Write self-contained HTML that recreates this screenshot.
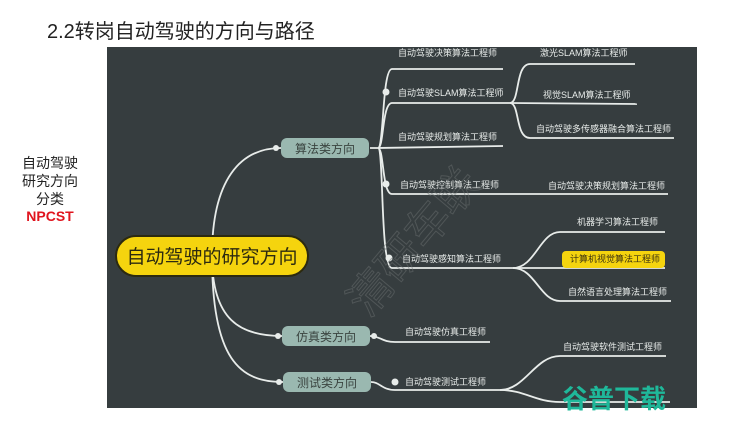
<!DOCTYPE html>
<html><head><meta charset="utf-8"><style>
body{margin:0;width:740px;height:419px;background:#fff;overflow:hidden;font-family:"Liberation Sans","Noto Sans CJK SC",sans-serif;}
</style></head><body>
<svg width="740" height="419" xmlns="http://www.w3.org/2000/svg" font-family="Liberation Sans, Noto Sans CJK SC, sans-serif">
<text x="47" y="38" font-size="20" fill="#222">2.2转岗自动驾驶的方向与路径</text>
<g font-size="14" fill="#222" text-anchor="middle">
<text x="50" y="168">自动驾驶</text>
<text x="50" y="186">研究方向</text>
<text x="50" y="204">分类</text>
<text x="50" y="221" fill="#e0141e" font-weight="bold">NPCST</text>
</g>
<rect x="107" y="47" width="590" height="361" fill="#363d3f"/>
<g stroke="#e8ecea" stroke-width="1.8" fill="none">
<path d="M212 256 C212 180 240 148 281 148"/>
<path d="M212 256 C212 320 240 336 282 336"/>
<path d="M212 256 C212 360 240 382 283 382"/>
<path d="M370 148 L378 148 C384 148 382 69 392 69 L503 69"/>
<path d="M378 148 C384 148 382 103 392 103 L510 103"/>
<path d="M378 148 L503 146"/>
<path d="M378 148 C384 148 382 194 392 194 L668 194"/>
<path d="M378 148 C384 148 380 268 392 268 L513 268"/>
<path d="M510 103 C520 103 515 64 530 64 L635 64"/>
<path d="M510 103 L637 104"/>
<path d="M510 103 C520 103 515 138 530 138 L674 138"/>
<path d="M513 268 C535 268 540 232 560 232 L665 232"/>
<path d="M513 268 L665 268"/>
<path d="M513 268 C535 268 540 301 560 301 L671 301"/>
<path d="M370 336 C380 336 382 342 395 342 L490 342"/>
<path d="M371 382 C380 382 382 390 395 390 L500 390"/>
<path d="M500 390 C525 390 535 356 560 356 L666 356"/>
<path d="M500 390 C525 390 535 402 560 402 L670 402"/>
</g>
<g fill="#e8ecea"><circle cx="386" cy="92" r="3.5"/><circle cx="386" cy="184" r="3.5"/><circle cx="389" cy="258" r="3.5"/><circle cx="395" cy="382" r="3.5"/><circle cx="374" cy="336" r="3"/><circle cx="276" cy="148" r="3"/><circle cx="278" cy="336" r="3"/><circle cx="279" cy="382" r="3"/></g>
<rect x="116" y="236" width="192" height="40" rx="20" fill="#f5d40e" stroke="#2c2a10" stroke-width="2"/>
<text x="212" y="263" font-size="19" text-anchor="middle" fill="#2c2a10">自动驾驶的研究方向</text>
<g fill="#9ab8b0"><rect x="281" y="138" width="88" height="20" rx="6"/><rect x="282" y="326" width="88" height="20" rx="6"/><rect x="283" y="372" width="88" height="20" rx="6"/></g>
<g font-size="12" fill="#3a4440" text-anchor="middle"><text x="325" y="153">算法类方向</text><text x="326" y="341">仿真类方向</text><text x="327" y="387">测试类方向</text></g>
<rect x="562" y="251" width="103" height="17" rx="4" fill="#f5d40e"/>
<g font-size="9" fill="#e8ecea">
<text x="398" y="56">自动驾驶决策算法工程师</text>
<text x="398" y="96">自动驾驶SLAM算法工程师</text>
<text x="398" y="140">自动驾驶规划算法工程师</text>
<text x="400" y="188">自动驾驶控制算法工程师</text>
<text x="402" y="262">自动驾驶感知算法工程师</text>
<text x="540" y="56">激光SLAM算法工程师</text>
<text x="543" y="98">视觉SLAM算法工程师</text>
<text x="536" y="132">自动驾驶多传感器融合算法工程师</text>
<text x="548" y="189">自动驾驶决策规划算法工程师</text>
<text x="577" y="225">机器学习算法工程师</text>
<text x="568" y="295">自然语言处理算法工程师</text>
<text x="405" y="335">自动驾驶仿真工程师</text>
<text x="405" y="385">自动驾驶测试工程师</text>
<text x="563" y="350">自动驾驶软件测试工程师</text>
</g>
<text x="570" y="262" font-size="9" fill="#3a3010">计算机视觉算法工程师</text>
<text x="290" y="290" font-size="44" fill="none" stroke="#6a6f70" stroke-width="1" opacity="0.5" transform="rotate(-50 360 220)">清研车联</text>
<text x="562" y="408" font-size="26" font-weight="bold" fill="#1fb89a">谷普下载</text>
</svg>
</body></html>
